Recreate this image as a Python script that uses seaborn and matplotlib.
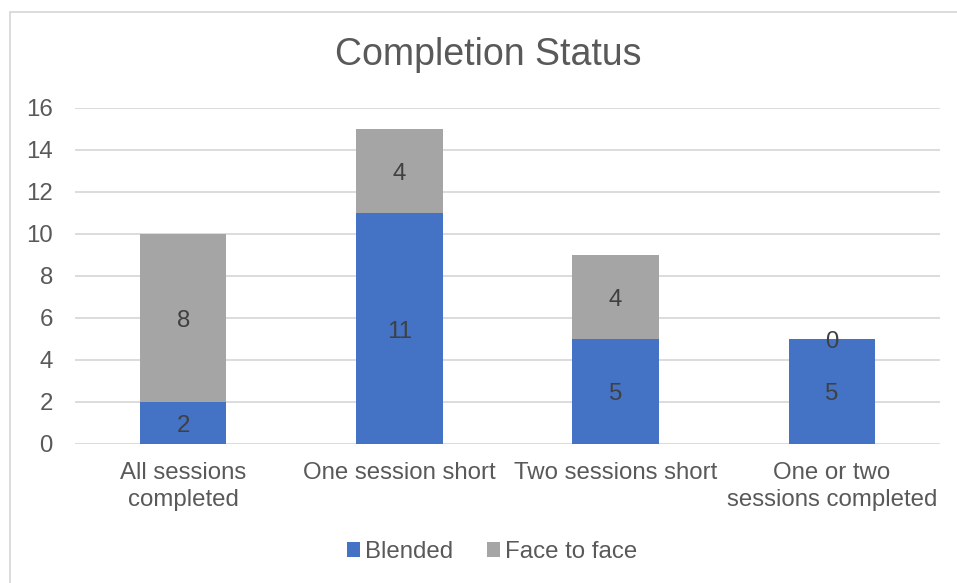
import matplotlib
matplotlib.use("Agg")
import matplotlib.pyplot as plt
from matplotlib.patches import Patch, Rectangle
from matplotlib.transforms import offset_copy
import pandas as pd
import seaborn as sns

# Data
categories = ["All sessions\ncompleted", "One session short", "Two sessions short",
              "One or two\nsessions completed"]
blended = [2, 11, 5, 5]
face_to_face = [8, 4, 4, 0]
series_names = ["Blended", "Face to face"]
y_ticks = [0, 2, 4, 6, 8, 10, 12, 14, 16]

BLUE = "#4472C4"
GRAY = "#A5A5A5"
TEXT = "#595959"
LABEL = "#404040"
GRID = "#D9D9D9"

sns.set_theme(style="white")
plt.rcParams["font.family"] = ["Liberation Sans", "DejaVu Sans"]

df = pd.DataFrame({
    "category": categories,
    "Blended": blended,
    "Face to face": face_to_face,
})
df["total"] = df["Blended"] + df["Face to face"]

fig = plt.figure(figsize=(9.57, 5.83), dpi=100)
ax = fig.add_axes([75 / 957, 1 - 444 / 583, 865 / 957, 336 / 583])

# Stacked bars: full height in gray, blended portion drawn over it in blue
sns.barplot(data=df, x="category", y="total", color=GRAY, width=0.4,
            saturation=1, linewidth=0, ax=ax, zorder=2)
sns.barplot(data=df, x="category", y="Blended", color=BLUE, width=0.4,
            saturation=1, linewidth=0, ax=ax, zorder=3)

# Segment value labels
label_tr = offset_copy(ax.transData, fig=fig, x=0, y=-3, units="dots")
for i, (b, f) in enumerate(zip(df["Blended"], df["Face to face"])):
    ax.text(i, b / 2, f"{b}", ha="center", va="center", fontsize=17.3,
            color=LABEL, zorder=5, transform=label_tr)
    ax.text(i, b + f / 2, f"{f}", ha="center", va="center", fontsize=17.3,
            color=LABEL, zorder=5, transform=label_tr)

ax.set_ylim(0, 16)
ax.set_yticks(y_ticks)
ax.set_xlim(-0.5, len(categories) - 0.5)
ax.yaxis.grid(True, color=GRID, linewidth=1.3, zorder=0)
ax.set_axisbelow(True)
for s in ax.spines.values():
    s.set_visible(False)
ax.set_xlabel("")
ax.set_ylabel("")
ax.tick_params(axis="y", length=0, pad=16, labelsize=17.3, labelcolor=TEXT)
ax.tick_params(axis="x", length=0, pad=13, labelsize=17.3, labelcolor=TEXT)
for lab in ax.get_xticklabels():
    lab.set_linespacing(1.3)

fig.text(488 / 957, 1 - 55 / 583, "Completion Status", ha="center", va="center",
         fontsize=27, color=TEXT)

handles = [Patch(facecolor=BLUE, edgecolor="none"),
           Patch(facecolor=GRAY, edgecolor="none")]
fig.legend(handles, series_names, loc="center", bbox_to_anchor=(0.514, 1 - 552 / 583),
           ncol=2, frameon=False, fontsize=17.3, labelcolor=TEXT,
           handlelength=0.55, handleheight=0.55, handletextpad=0.2,
           columnspacing=1.4)

# Chart-area outline
fig.patches.append(Rectangle((10 / 957, -0.1), 1.2, 1 - 12 / 583 + 0.1,
                             transform=fig.transFigure, fill=False,
                             edgecolor=GRID, linewidth=1.3))

fig.savefig("out.png", dpi=100, facecolor="white")
